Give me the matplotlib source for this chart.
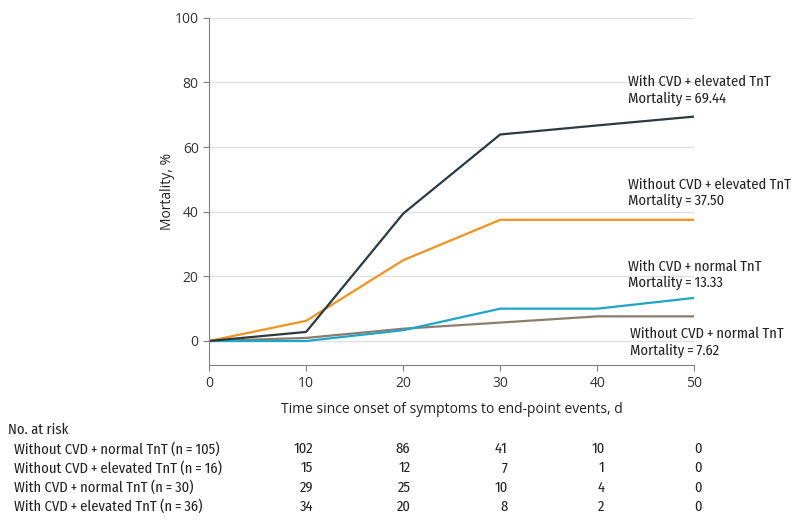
import matplotlib
matplotlib.use("Agg")
import matplotlib.pyplot as plt

# data
days = [0, 10, 20, 30, 40, 50]
wo_normal = [0, 0.95, 3.8, 5.7, 7.62, 7.62]
wo_elev = [0, 6.25, 25.0, 37.5, 37.5, 37.5]
w_normal = [0, 0, 3.33, 10.0, 10.0, 13.33]
w_elev = [0, 2.8, 39.4, 63.9, 66.7, 69.44]

groups = ["Without CVD + normal TnT (n = 105)",
          "Without CVD + elevated TnT (n = 16)",
          "With CVD + normal TnT (n = 30)",
          "With CVD + elevated TnT (n = 36)"]
at_risk = [[102, 86, 41, 10, 0],
           [15, 12, 7, 1, 0],
           [29, 25, 10, 4, 0],
           [34, 20, 8, 2, 0]]
risk_days = [10, 20, 30, 40, 50]

labels = ["With CVD + elevated TnT\nMortality = 69.44",
          "Without CVD + elevated TnT\nMortality = 37.50",
          "With CVD + normal TnT\nMortality = 13.33",
          "Without CVD + normal TnT\nMortality = 7.62"]


def tight(s):
    # uzsie medzery okolo + a =
    return s.replace(" + ", "\u2009+\u2009").replace(" = ", "\u2009=\u2009")


cond = ["Fira Sans Condensed", "DejaVu Sans"]
plt.rcParams["font.family"] = ["Open Sans", "DejaVu Sans"]
fs = 10.5

fig = plt.figure(figsize=(7.98, 5.24), dpi=100)
ax = fig.add_axes([0.262, 0.303, 0.608, 0.663])

ax.plot(days, wo_normal, color="#8b7d6e", lw=1.6)
ax.plot(days, w_normal, color="#1ea6c9", lw=1.6)
ax.plot(days, wo_elev, color="#f5921e", lw=1.6)
ax.plot(days, w_elev, color="#2c3a40", lw=1.6)

ax.set_xlim(0, 50)
ax.set_ylim(-7.5, 100)
ax.set_xticks([0, 10, 20, 30, 40, 50])
ax.set_yticks([0, 20, 40, 60, 80, 100])
ax.yaxis.grid(True, color="#e0e0e0", lw=1)
ax.set_axisbelow(True)
for s in ["top", "right"]:
    ax.spines[s].set_visible(False)
ax.spines["left"].set_color("#808080")
ax.spines["bottom"].set_color("#808080")
ax.tick_params(colors="#333333", labelsize=10, length=4, color="#808080")
ax.set_xlabel("Time since onset of symptoms to end-point events, d", fontsize=10, color="#222222", labelpad=8)
ax.set_ylabel("Mortality, %", fontsize=10, color="#222222", labelpad=0)

# popisky kriviek
tf = dict(fontsize=fs, family=cond, color="#222222", va="center", linespacing=1.2, clip_on=False)
ax.text(43.2, 77.5, tight(labels[0]), **tf)
ax.text(43.2, 45.8, tight(labels[1]), **tf)
ax.text(43.2, 20.5, tight(labels[2]), **tf)
ax.text(43.4, -0.5, tight(labels[3]), **tf)

# tabulka - pocet v riziku
fig.text(8 / 798, 1 - 430 / 524, "No. at risk", fontsize=fs, family=cond, va="center", color="#222222")
for i, g in enumerate(groups):
    y = 1 - (449 + i * 19.3) / 524
    fig.text(14 / 798, y, tight(g), fontsize=fs, family=cond, va="center", color="#222222")
    for d, n in zip(risk_days, at_risk[i]):
        xp = ax.transData.transform((d + 0.75, 0))[0] / fig.bbox.width
        fig.text(xp, y, str(n), fontsize=fs, family=cond, va="center", ha="right", color="#222222")

fig.savefig("out.png", dpi=100)
